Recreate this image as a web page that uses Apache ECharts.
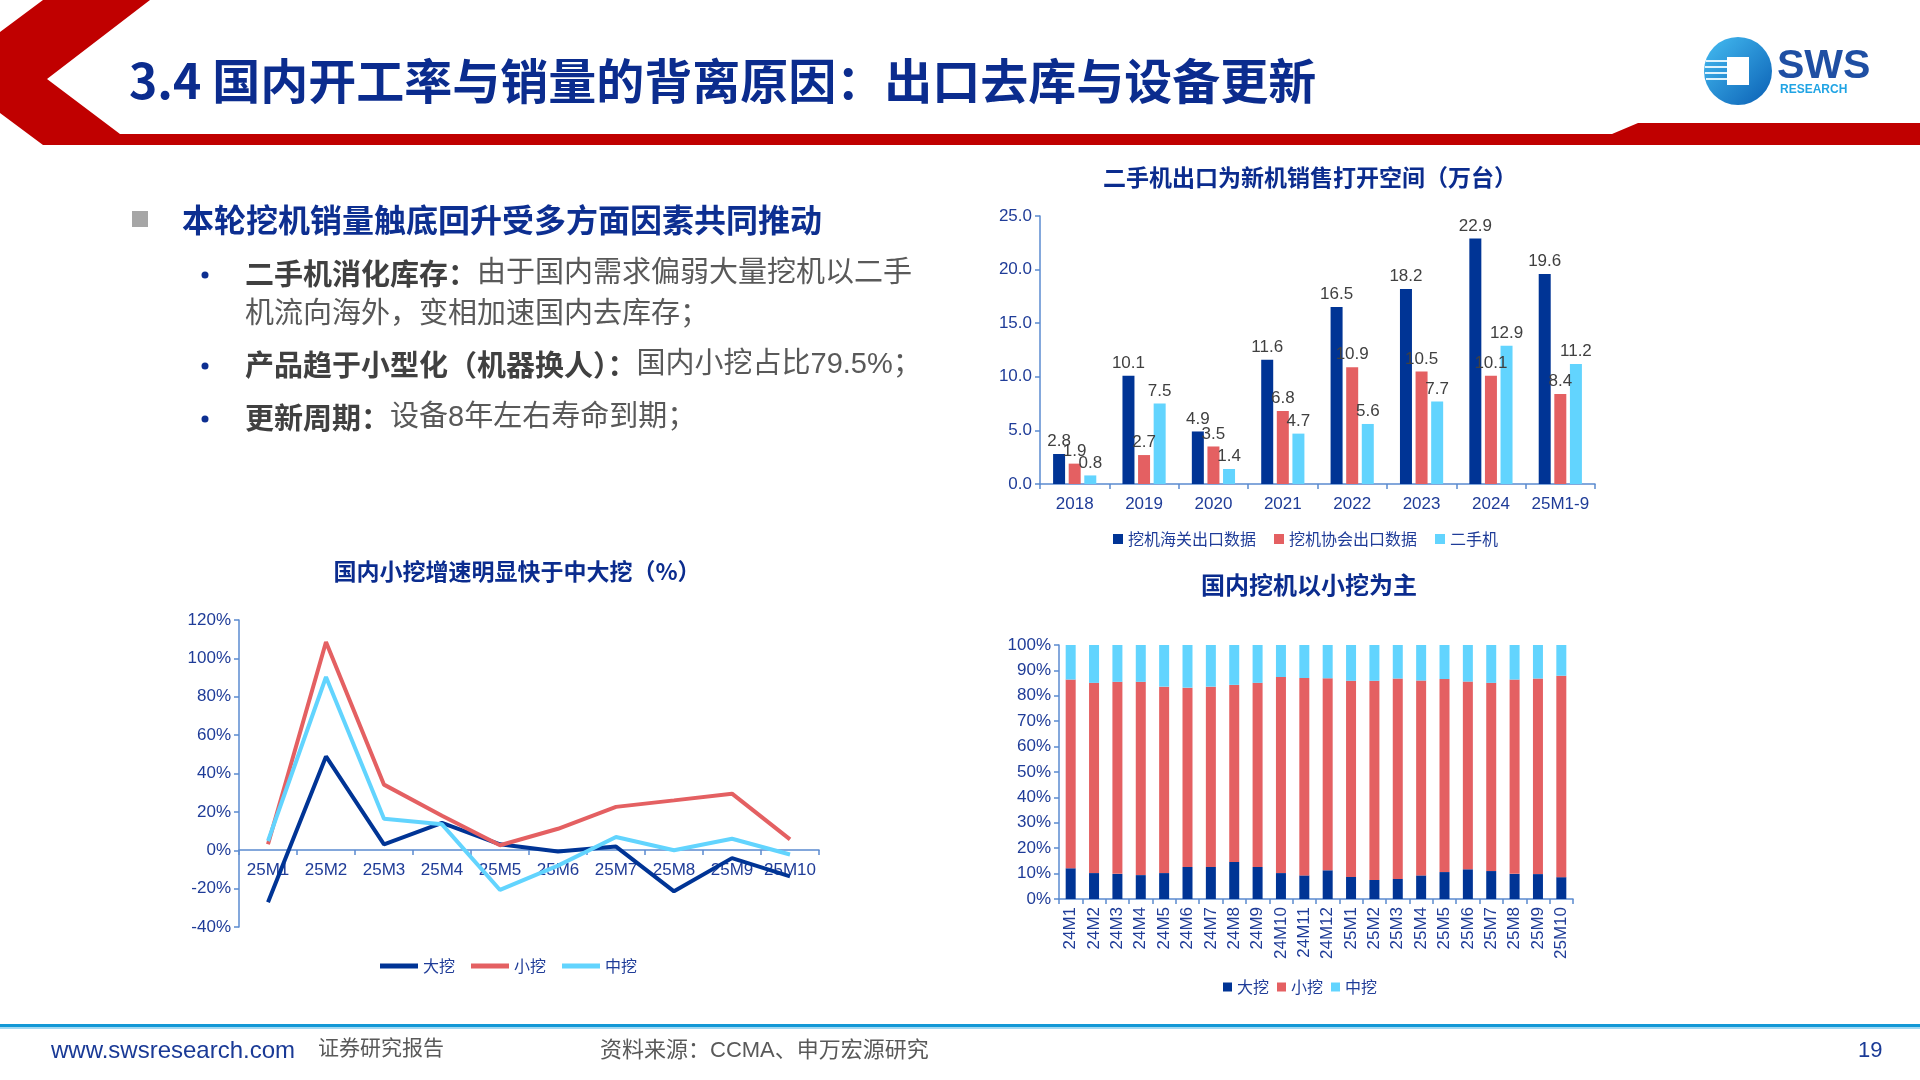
<!DOCTYPE html>
<html>
<head>
<meta charset="utf-8">
<script src="https://cdn.jsdelivr.net/npm/echarts@6/dist/echarts.min.js"></script>
<style>
  html, body { margin: 0; padding: 0; background: #fff; }
  #main { width: 1920px; height: 1080px; }
</style>
</head>
<body>
<div id="main"></div>
<script>
// 出口数据（万台）
const years = ['2018', '2019', '2020', '2021', '2022', '2023', '2024', '25M1-9']
const customsExport = [2.8, 10.1, 4.9, 11.6, 16.5, 18.2, 22.9, 19.6]
const assocExport = [1.9, 2.7, 3.5, 6.8, 10.9, 10.5, 10.1, 8.4]
const usedExport = [0.8, 7.5, 1.4, 4.7, 5.6, 7.7, 12.9, 11.2]

// 增速（%）
const lineMonths = ['25M1', '25M2', '25M3', '25M4', '25M5', '25M6', '25M7', '25M8', '25M9', '25M10']
const bigGrowth = [-27.1, 48.9, 3.1, 14.3, 3.1, -0.7, 1.9, -21.4, -4.1, -13.6]
const smallGrowth = [3.1, 108.5, 34.2, 18.0, 2.6, 11.2, 22.6, 26.0, 29.5, 5.7]
const midGrowth = [4.8, 90.3, 16.4, 13.5, -20.7, -8.0, 6.9, 0.0, 6.0, -2.2]

// 结构占比（%）
const shareMonths = ['24M1', '24M2', '24M3', '24M4', '24M5', '24M6', '24M7', '24M8', '24M9', '24M10', '24M11', '24M12',
  '25M1', '25M2', '25M3', '25M4', '25M5', '25M6', '25M7', '25M8', '25M9', '25M10']
const bigShare = [12.1, 10.2, 9.9, 9.4, 10.2, 12.6, 12.6, 14.6, 12.6, 10.2, 9.3, 11.3, 8.7, 7.5, 7.9, 9.3, 10.6, 11.7, 11.0, 9.9, 9.8, 8.6]
const smallShare = [74.3, 74.9, 75.6, 76.1, 73.4, 70.6, 71.0, 69.7, 72.5, 77.2, 77.7, 75.6, 77.2, 78.4, 78.9, 76.7, 76.0, 73.9, 74.1, 76.5, 77.0, 79.3]
const midShare = [13.6, 14.9, 14.5, 14.5, 16.4, 16.8, 16.4, 15.7, 14.9, 12.6, 13.0, 13.1, 14.1, 14.1, 13.2, 14.0, 13.4, 14.4, 14.9, 13.6, 13.2, 12.1]

const DARK = '#003495'
const RED = '#e46062'
const LIGHT = '#62d4fe'
const TXT = '#1f3c98'
const TITLE = '#0b2c8e'
const AXIS = '#5b8bd0'
const FONT = '"Liberation Sans", "Noto Sans CJK SC", sans-serif'
const CJK = '"Noto Sans CJK SC", sans-serif'

function catAxis(gridIndex, data, label, extra) {
  return Object.assign({
    type: 'category',
    gridIndex: gridIndex,
    data: data,
    axisLine: { onZero: false, lineStyle: { color: AXIS, width: 1.5 } },
    axisTick: { show: true, length: 5, lineStyle: { color: AXIS, width: 1.5 } },
    axisLabel: Object.assign({ color: TXT, fontSize: 17, fontFamily: FONT, margin: 12, interval: 0 }, label || {})
  }, extra || {})
}

function valAxis(gridIndex, min, max, interval, fmt) {
  return {
    type: 'value',
    gridIndex: gridIndex,
    min: min,
    max: max,
    interval: interval,
    axisLine: { show: true, lineStyle: { color: AXIS, width: 1.5 } },
    axisTick: { show: true, length: 5, lineStyle: { color: AXIS, width: 1.5 } },
    splitLine: { show: false },
    axisLabel: { color: TXT, fontSize: 17, fontFamily: FONT, margin: 8, formatter: fmt }
  }
}

function txt(x, y, text, font, fill, align) {
  return {
    type: 'text', x: x, y: y, silent: true,
    style: {
      text: text, font: font, fill: fill,
      align: align || 'left', textAlign: align || 'left',
      verticalAlign: 'middle', textVerticalAlign: 'middle'
    }
  }
}

const rich = {
  b: { fontSize: 29, fontWeight: 'bold', fontFamily: CJK, fill: '#404040', color: '#404040' },
  r: { fontSize: 29, fontFamily: FONT, fill: '#595959', color: '#595959' }
}

function richLine(x, y, text) {
  return {
    type: 'text', x: x, y: y, silent: true,
    style: { text: text, rich: rich, align: 'left', textAlign: 'left', verticalAlign: 'middle', textVerticalAlign: 'middle' }
  }
}

const barLabel = {
  show: true,
  position: 'top',
  distance: 4,
  color: '#404040',
  fontSize: 17,
  fontFamily: FONT,
  formatter: p => p.value.toFixed(1)
}

const chart = echarts.init(document.getElementById('main'))
chart.setOption({
  animation: false,
  backgroundColor: '#fff',
  grid: [
    { left: 1040, right: 325, top: 216, bottom: 596 },
    { left: 239, right: 1101, top: 620, bottom: 153 },
    { left: 1059, right: 347, top: 645, bottom: 181 }
  ],
  xAxis: [
    catAxis(0, years),
    // 横轴放在 0% 处
    catAxis(1, lineMonths, { margin: 12 }, { offset: -77 }),
    catAxis(2, shareMonths, { rotate: 90, margin: 8 })
  ],
  yAxis: [
    valAxis(0, 0, 25, 5, v => v.toFixed(1)),
    valAxis(1, -40, 120, 20, '{value}%'),
    valAxis(2, 0, 100, 10, '{value}%')
  ],
  legend: [
    {
      data: ['挖机海关出口数据', '挖机协会出口数据', '二手机'],
      left: 1108, top: 526, icon: 'rect', itemWidth: 10, itemHeight: 10, itemGap: 18,
      textStyle: { color: TXT, fontSize: 16, fontFamily: CJK }
    },
    {
      data: ['大挖', '小挖', '中挖'],
      left: 375, top: 953, icon: 'rect', itemWidth: 38, itemHeight: 5, itemGap: 16,
      textStyle: { color: TXT, fontSize: 16, fontFamily: CJK }
    },
    {
      data: ['大挖', '小挖', '中挖'],
      left: 1218, top: 974, icon: 'rect', itemWidth: 9, itemHeight: 9, itemGap: 8,
      textStyle: { color: TXT, fontSize: 16, fontFamily: CJK }
    }
  ],
  series: [
    { name: '挖机海关出口数据', type: 'bar', xAxisIndex: 0, yAxisIndex: 0, data: customsExport,
      barWidth: 12, barGap: '30%', itemStyle: { color: DARK }, label: barLabel },
    { name: '挖机协会出口数据', type: 'bar', xAxisIndex: 0, yAxisIndex: 0, data: assocExport,
      barWidth: 12, barGap: '30%', itemStyle: { color: RED }, label: barLabel },
    { name: '二手机', type: 'bar', xAxisIndex: 0, yAxisIndex: 0, data: usedExport,
      barWidth: 12, barGap: '30%', itemStyle: { color: LIGHT }, label: barLabel },

    { name: '大挖', type: 'line', xAxisIndex: 1, yAxisIndex: 1, data: bigGrowth,
      symbol: 'none', lineStyle: { width: 4, color: DARK }, itemStyle: { color: DARK } },
    { name: '小挖', type: 'line', xAxisIndex: 1, yAxisIndex: 1, data: smallGrowth,
      symbol: 'none', lineStyle: { width: 4, color: RED }, itemStyle: { color: RED } },
    { name: '中挖', type: 'line', xAxisIndex: 1, yAxisIndex: 1, data: midGrowth,
      symbol: 'none', lineStyle: { width: 4, color: LIGHT }, itemStyle: { color: LIGHT } },

    { name: '大挖', type: 'bar', stack: 'share', xAxisIndex: 2, yAxisIndex: 2, data: bigShare,
      barWidth: 10, itemStyle: { color: DARK } },
    { name: '小挖', type: 'bar', stack: 'share', xAxisIndex: 2, yAxisIndex: 2, data: smallShare,
      barWidth: 10, itemStyle: { color: RED } },
    { name: '中挖', type: 'bar', stack: 'share', xAxisIndex: 2, yAxisIndex: 2, data: midShare,
      barWidth: 10, itemStyle: { color: LIGHT } }
  ],
  graphic: [
    // 页眉红色条
    {
      type: 'polygon', silent: true,
      shape: { points: [[0, 32], [43, 0], [150, 0], [47, 79], [120, 134], [1612, 134], [1638, 123],
        [1920, 123], [1920, 145], [43, 145], [0, 113]] },
      style: { fill: '#c00000' }
    },
    txt(129, 81, '3.4 国内开工率与销量的背离原因：出口去库与设备更新', 'bold 48px ' + CJK, TITLE),

    // logo
    {
      type: 'circle', silent: true, shape: { cx: 1738, cy: 71, r: 34 },
      style: { fill: { type: 'linear', x: 0, y: 0, x2: 1, y2: 1,
        colorStops: [{ offset: 0, color: '#45bdf2' }, { offset: 1, color: '#0a5fb4' }] } }
    },
    { type: 'rect', silent: true, shape: { x: 1727, y: 57, width: 22, height: 28 }, style: { fill: '#fff' } },
    { type: 'rect', silent: true, shape: { x: 1706, y: 60, width: 21, height: 2 }, style: { fill: '#dff3fd' } },
    { type: 'rect', silent: true, shape: { x: 1705, y: 66, width: 22, height: 2 }, style: { fill: '#dff3fd' } },
    { type: 'rect', silent: true, shape: { x: 1705, y: 72, width: 22, height: 2 }, style: { fill: '#dff3fd' } },
    { type: 'rect', silent: true, shape: { x: 1706, y: 78, width: 21, height: 2 }, style: { fill: '#dff3fd' } },
    txt(1777, 67, 'SWS', 'bold 41px "Liberation Sans"', '#1f4fa3'),
    txt(1780, 90, 'RESEARCH', 'bold 12px "Liberation Sans"', '#20a4e4'),

    // 左侧文字
    { type: 'rect', silent: true, shape: { x: 132, y: 211, width: 16, height: 16 }, style: { fill: '#a6a6a6' } },
    txt(182, 220, '本轮挖机销量触底回升受多方面因素共同推动', 'bold 32px ' + CJK, '#0d2f91'),
    { type: 'circle', silent: true, shape: { cx: 205, cy: 275, r: 3.5 }, style: { fill: '#0d2f91' } },
    { type: 'circle', silent: true, shape: { cx: 205, cy: 366, r: 3.5 }, style: { fill: '#0d2f91' } },
    { type: 'circle', silent: true, shape: { cx: 205, cy: 419, r: 3.5 }, style: { fill: '#0d2f91' } },
    richLine(245, 274, '{b|二手机消化库存：}{r|由于国内需求偏弱大量挖机以二手}'),
    richLine(245, 315, '{r|机流向海外，变相加速国内去库存；}'),
    richLine(245, 365, '{b|产品趋于小型化（机器换人）：}{r|国内小挖占比79.5%；}'),
    richLine(245, 418, '{b|更新周期：}{r|设备8年左右寿命到期；}'),

    // 图表标题
    txt(1310, 177, '二手机出口为新机销售打开空间（万台）', 'bold 23px ' + CJK, TITLE, 'center'),
    txt(517, 571, '国内小挖增速明显快于中大挖（%）', 'bold 23px ' + CJK, TITLE, 'center'),
    txt(1309, 585, '国内挖机以小挖为主', 'bold 24px ' + CJK, TITLE, 'center'),

    // 页脚
    { type: 'rect', silent: true, shape: { x: 0, y: 1024, width: 1920, height: 3 }, style: { fill: '#1298d6' } },
    { type: 'rect', silent: true, shape: { x: 0, y: 1027, width: 1920, height: 2 }, style: { fill: '#a3d9f3' } },
    txt(51, 1051, 'www.swsresearch.com', '24px "Liberation Sans"', '#1a3a96'),
    txt(318, 1047, '证券研究报告', '21px ' + CJK, '#595959'),
    txt(600, 1051, '资料来源：CCMA、申万宏源研究', '22px ' + FONT, '#595959'),
    txt(1858, 1051, '19', '22px "Liberation Sans"', '#1a3a96')
  ]
})
</script>
</body>
</html>
